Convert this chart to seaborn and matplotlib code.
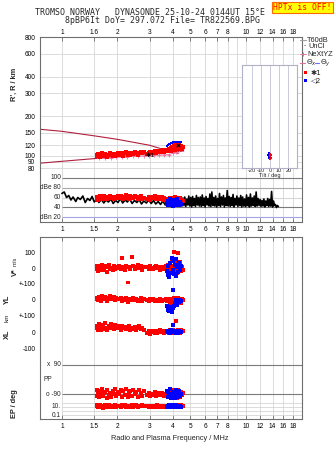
import matplotlib
matplotlib.use("Agg")
import matplotlib.pyplot as plt
from matplotlib.patches import Rectangle
from matplotlib.lines import Line2D
from matplotlib.ticker import NullLocator
import seaborn as sns

# ---------------- frequency axis ----------------
freq_min, freq_max = 0.7556, 20.15
grid_freqs = [1, 1.5, 2, 3, 4, 5, 6, 7, 8, 9, 10, 12, 14, 16, 18]
top_tick_freqs = [1, 1.5, 2, 3, 4, 5, 6, 7, 8, 10, 12, 14, 16, 18]
top_tick_labels = ["1", "1.6", "2", "3", "4", "5", "6", "7", "8", "10", "12", "14", "16", "18"]
mid_tick_freqs = [1, 1.5, 2, 3, 4, 5, 6, 7, 8, 9, 10, 12, 14, 16, 18]
mid_tick_labels = ["1", "1.5", "2", "3", "4", "5", "6", "7", "8", "9", "10", "12", "14", "16", "18"]
bottom_tick_freqs = [1, 1.5, 2, 3, 4, 5, 6, 7, 8, 10, 12, 14, 16, 18]
bottom_tick_labels = ["1", "1.5", "2", "3", "4", "5", "6", "7", "8", "10", "12", "14", "16", "18"]

# ---------------- height axis ----------------
height_ticks = [80, 90, 100, 120, 150, 200, 300, 400, 600, 800]
height_labels = ["80", "90", "100", "120", "150", "200", "300", "400", "600", "800"]

# model height curves (km)
upper_curve_f = [0.74, 1.0, 1.5, 2.0, 3.0, 3.7, 4.3]
upper_curve_h = [159.5, 153.3, 141.6, 133.2, 120.0, 109.8, 104.2]
lower_curve_f = [0.74, 1.0, 2.0, 3.0, 4.6]
lower_curve_h = [87.3, 90.5, 98.2, 103.0, 108.5]

# NeXtYZ true-height profile
nextyz_f = [1.60, 1.72, 1.85, 1.98, 2.12, 2.27, 2.43, 2.60, 2.78, 2.97, 3.17, 3.38, 3.60, 3.82, 4.02, 4.20, 4.36, 4.50]
nextyz_h = [95.5, 96, 96.5, 97, 97.5, 98, 98.5, 99, 99.5, 100, 100.5, 101, 101.5, 102, 104, 107, 110, 112]

# ---------------- echo mode 1 (x1) ----------------
x1_freq = [1.55, 1.56, 1.58, 1.60, 1.61, 1.63, 1.65, 1.67, 1.70, 1.72,
           1.75, 1.77, 1.80, 1.83, 1.86, 1.89, 1.92, 1.95, 1.98, 2.02,
           2.05, 2.09, 2.12, 2.16, 2.20, 2.24, 2.28, 2.32, 2.36, 2.41,
           2.45, 2.50, 2.54, 2.59, 2.64, 2.69, 2.74, 2.80,
           2.92, 2.97, 3.02, 3.08, 3.13, 3.19, 3.25, 3.31, 3.37, 3.43,
           3.49, 3.55, 3.61, 3.67, 3.72,
           3.77, 3.82, 3.86, 3.90, 3.94, 3.98, 4.02, 4.06, 4.10, 4.14,
           4.18, 4.22, 4.26, 4.30, 4.34, 4.38, 4.43, 4.48, 4.55]
x1_range = [101, 99, 103, 100, 98, 102, 104, 99, 101, 103, 100, 98, 102, 104, 101, 99, 103, 100, 102, 104,
            101, 105, 103, 100, 104, 106, 102, 104, 101, 105, 103, 106, 104, 102, 105, 107, 104, 106,
            103, 105, 107, 104, 106, 108, 105, 107, 109, 106, 108, 110, 107, 109, 111,
            108, 112, 110, 114, 109, 116, 112, 118, 111, 120, 114, 122, 113, 117, 124, 115, 119, 112, 116]
x1_amp = [58, 62, 56, 60, 63, 57, 61, 59, 64, 58, 62, 57, 60, 63, 59, 61, 57, 62, 60, 64,
          59, 63, 61, 57, 62, 65, 60, 58, 63, 61, 59, 64, 62, 58, 61, 63, 57, 60,
          58, 62, 56, 61, 59, 63, 57, 60, 62, 58, 61, 56, 60, 58, 55,
          57, 53, 59, 55, 60, 52, 58, 54, 61, 56, 50, 59, 53, 57, 55, 60, 52, 56, 54]
x1_vstar = [-5, 10, -20, 15, 5, -15, 20, 0, -10, 12, -25, 8, 18, -5, 3, -12, 15, -8, 6, -3,
            10, -6, 65, 4, -10, 12, -95, 8, -4, 70, 14, -8, 5, 20, -3, 10, -12, 6,
            4, -8, 12, 2, -5, 8, 15, -2, 6, -10, 3, 9, -6, 12, -4,
            20, -15, 35, 5, -25, 45, 10, 100, -10, 30, 60, -30, 15, 95, -5, 40, -20, 8, -12]
x1_yl = [8, 15, 2, 20, 10, -5, 25, 12, 6, 18, -8, 14, 9, 22, 4, 11, 16, 0, 13, 7,
         5, 12, -6, 9, 2, 15, -10, 4, 8, -3, 11, 0, 6, -8, 3, 10, -4, 7,
         2, -5, 6, -2, 4, -7, 3, 0, -4, 5, -6, 2, -3, 6, -8,
         -4, 8, -12, 3, -20, 5, -8, 12, -15, 0, -25, 6, -10, 15, -5, 4, -18, 8, 2]
x1_xl = [25, 40, 15, 50, 30, 10, 45, 35, 20, 55, 28, 12, 38, 25, 48, 30, 18, 42, 22, 35,
         28, 15, 40, 22, 32, 18, 25, 35, 12, 28, 20, 30, 15, 25, 38, 20, 28, 12,
         -5, 5, -10, 2, 8, -4, 6, -8, 0, 10, -3, 4, -6, 3, 8,
         2, -6, 10, 0, 5, -8, 12, 3, -4, 8, 70, -2, 6, 14, 0, -5, 10, 4, 8]
x1_pp = [-65, -100, -80, -110, -70, -95, -60, -105, -85, -75, -112, -68, -98, -82, -108, -72, -90, -62, -104, -78,
         -88, -66, -106, -74, -96, -60, -110, -84, -70, -100, -64, -92, -78, -108, -68, -86, -102, -74,
         -96, -82, -104, -88, -94, -80, -100, -90, -86, -98, -84, -92, -102, -88, -96,
         -78, -100, -70, -110, -86, -64, -104, -92, -74, -98, -82, -112, -68, -94, -88, -106, -76, -96, -84]
x1_ep = [12, 20, 8, 15, 25, 10, 18, 6, 14, 22, 9, 16, 30, 11, 19, 7, 13, 24, 10, 17,
         15, 9, 21, 12, 28, 8, 16, 11, 19, 26, 10, 14, 22, 9, 18, 12, 25, 13,
         14, 10, 18, 12, 8, 16, 11, 20, 9, 13, 17, 10, 15, 12, 19,
         11, 18, 8, 22, 13, 30, 9, 16, 12, 25, 7, 19, 14, 10, 21, 15, 26, 12, 17]

# ---------------- echo mode 2 (o2) ----------------
o2_freq = [3.72, 3.76, 3.80, 3.84, 3.88, 3.92, 3.96, 4.00, 4.04, 4.08, 4.12, 4.16, 4.20, 4.24, 4.28, 4.32, 4.38, 4.45]
o2_range = [119, 120, 121, 122, 123, 124, 125, 126, 126, 127, 127, 128, 127, 128, 127, 128, 126, 127]
o2_amp = [50, 44, 54, 47, 58, 45, 52, 42, 55, 48, 46, 53, 44, 57, 49, 45, 51, 47]
o2_vstar = [-20, -45, 10, -55, 30, -30, 65, -10, 45, -40, 20, -50, 55, 5, -25, 35, -15, 10]
o2_yl = [-40, -55, -60, -70, -45, -65, -72, -50, 60, -35, -20, -10, 0, -30, -5, -15, -2, -8]
o2_xl = [5, -3, 8, 2, -6, 10, 4, -2, 44, 6, 0, -8, 3, 9, -4, 5, 2, -1]
o2_pp = [-70, -110, -80, -100, -60, -115, -90, -75, -105, -85, -120, -65, -95, -80, -110, -70, -100, -88]
o2_ep = [10, 15, 8, 20, 12, 9, 25, 11, 14, 7, 18, 10, 22, 13, 9, 16, 12, 10]

# echo tilt (deg) vs range (km)
x1_tilt = [0.2, 0.6, 0.4, 0.8, 0.5]
x1_tilt_h = [94, 96, 98, 100, 102]
o2_tilt = [-1.5, -1.2, -1.8, -1.4, -1.6]
o2_tilt_h = [96, 98, 100, 102, 105]

# ---------------- background amplitude trace (dB) ----------------
noise_freq = [1.00, 1.03, 1.06, 1.09, 1.12, 1.15, 1.19, 1.22, 1.26, 1.30, 1.34, 1.38, 1.42, 1.46, 1.50,
              1.55, 1.59, 1.64, 1.69, 1.74, 1.79, 1.85, 1.90, 1.96, 2.02, 2.08, 2.14, 2.21, 2.27, 2.34,
              2.41, 2.48, 2.56, 2.63, 2.71, 2.79, 2.88, 2.97, 3.06, 3.15, 3.24, 3.34, 3.44, 3.54, 3.65,
              3.76, 3.87, 3.99, 4.11, 4.23, 4.36,
              4.50, 4.55, 4.61, 4.66, 4.72, 4.78, 4.84, 4.90, 4.96, 5.02,
              5.08, 5.14, 5.20, 5.26, 5.33, 5.39, 5.46, 5.52, 5.59, 5.66,
              5.73, 5.80, 5.87, 5.94, 6.01, 6.08, 6.16, 6.23, 6.31, 6.38,
              6.46, 6.54, 6.62, 6.70, 6.78, 6.86, 6.95, 7.03, 7.12, 7.20,
              7.29, 7.38, 7.47, 7.56, 7.65, 7.74, 7.84, 7.93, 8.03, 8.13,
              8.23, 8.33, 8.43, 8.53, 8.63, 8.74, 8.84, 8.95, 9.06, 9.17,
              9.28, 9.39, 9.51, 9.62, 9.74, 9.86, 9.98, 10.10, 10.22, 10.35,
              10.47, 10.60, 10.73, 10.86, 10.99, 11.12, 11.26, 11.39, 11.53, 11.67,
              11.81, 11.96, 12.10, 12.25, 12.40, 12.55, 12.70, 12.85, 13.01, 13.17,
              13.33, 13.49, 13.65, 13.82, 13.99, 14.16, 14.33, 14.50, 14.68, 14.86,
              15.04]
noise_db = [68, 71, 60, 64, 55, 61, 52, 60, 56, 63, 50, 58, 54, 62, 51,
            57, 50, 56, 49, 55, 51, 57, 48, 54, 50, 58, 49, 55, 51, 57,
            48, 54, 50, 56, 47, 53, 49, 55, 48, 54, 47, 52, 46, 53, 45,
            51, 44, 50, 43, 49, 44,
            43, 59, 44, 61, 42, 57, 45, 63, 43, 60,
            41, 62, 44, 58, 42, 64, 45, 60, 43, 61,
            42, 65, 44, 59, 41, 62, 45, 58, 43, 67,
            42, 71, 44, 60, 43, 63, 41, 58, 44, 68,
            42, 61, 45, 64, 41, 59, 44, 74, 43, 62,
            42, 60, 44, 66, 41, 58, 45, 63, 42, 59,
            44, 64, 41, 61, 43, 57, 42, 65, 44, 60,
            41, 67, 43, 59, 44, 63, 42, 71, 43, 58,
            44, 56, 42, 54, 43, 57, 41, 53, 44, 58,
            42, 56, 43, 72, 41, 53, 44, 46, 40, 44,
            42]

db_levels = [100, 80, 60, 40, 20]
db_labels = ["100", "dBe 80", "60", "40", "dBn 20"]
tilt_ticks = [-20, -10, 0, 10, 20]

# ---------------- styling ----------------
W, H = 335, 451
RED, BLUE = "#ff0000", "#0000ff"
MAROON, PINK = "#b0203c", "#ee6c9c"
GRID, FRAME, DARK = "#d6d6d6", "#6e6e6e", "#7a7a7a"
TICK_FS, LAB_FS = 4.7, 5.3
MS = 5

sns.set_theme(style="white")
plt.rcParams["font.family"] = ["Liberation Sans", "DejaVu Sans"]
plt.rcParams["axes.unicode_minus"] = False

fig = plt.figure(figsize=(W / 100, H / 100), dpi=100)
fig.patch.set_facecolor("white")


def px_axes(x0, y0, x1, y1):
    return fig.add_axes([x0 / W, 1 - y1 / H, (x1 - x0) / W, (y1 - y0) / H])


def ftext(x, y, s, **kw):
    return fig.text(x / W, 1 - y / H, s, **kw)


def fline(x0, x1, y, **kw):
    fig.add_artist(Line2D([x0 / W, x1 / W], [1 - y / H, 1 - y / H], transform=fig.transFigure, **kw))


def freq_axis(ax, hide=()):
    ax.set_xscale("log")
    ax.set_xlim(freq_min, freq_max)
    ax.xaxis.set_minor_locator(NullLocator())
    ax.set_xticks([])
    ax.set_facecolor("white")
    for f in grid_freqs:
        ax.axvline(f, color=GRID, lw=0.6, zorder=0)
    for name, sp in ax.spines.items():
        sp.set_color(FRAME)
        sp.set_linewidth(0.8)
        if name in hide:
            sp.set_visible(False)
    ax.tick_params(axis="both", colors=FRAME, labelcolor="black", labelsize=TICK_FS,
                   direction="in", length=2.5, width=0.6)
    ax.set_xlabel("")
    ax.set_ylabel("")


def scatter(ax, x, y, color, s=MS):
    sns.scatterplot(x=x, y=y, ax=ax, marker="s", s=s, color=color, linewidth=0, zorder=4)


FL, FR = 39.5, 301.7

# ---------------- panel 1: virtual height ----------------
ax_h = px_axes(FL, 37.3, FR, 172)
freq_axis(ax_h, hide=("bottom",))
ax_h.set_yscale("log")
ax_h.set_ylim(75.0, 800)
ax_h.yaxis.set_minor_locator(NullLocator())
ax_h.set_yticks(height_ticks, height_labels)
ax_h.tick_params(axis="y", pad=3)
ax_h.set_xticks(top_tick_freqs, top_tick_labels)
ax_h.tick_params(axis="x", top=True, bottom=False, labeltop=True, labelbottom=False, pad=1.2, length=3)
for h in height_ticks:
    ax_h.axhline(h, color=GRID, lw=0.6, zorder=0)

sns.lineplot(x=upper_curve_f, y=upper_curve_h, ax=ax_h, color=MAROON, lw=0.8, sort=False, estimator=None, zorder=2)
sns.lineplot(x=lower_curve_f, y=lower_curve_h, ax=ax_h, color=MAROON, lw=0.8, sort=False, estimator=None, zorder=2)
sns.lineplot(x=nextyz_f, y=nextyz_h, ax=ax_h, color=PINK, lw=0.6, marker="+", markersize=3,
             markeredgewidth=0.6, markeredgecolor=PINK, sort=False, estimator=None, zorder=3)
scatter(ax_h, x1_freq, x1_range, RED)
scatter(ax_h, o2_freq, o2_range, BLUE, s=4)
ax_h.text(2.84, 101, "\u27311", fontsize=4.6, color="black", va="center", ha="left", zorder=6,
          family=["DejaVu Sans"])
ax_h.scatter([4.27], [120], marker="x", s=6, color="black", linewidth=0.8, zorder=6)
ax_h.set_xlabel("")
ax_h.set_ylabel("")

# ---------------- panel 1: amplitude (dB) ----------------
ax_db = px_axes(FL, 172, FR, 222)
freq_axis(ax_db, hide=("top",))
ax_db.set_ylim(11, 111)
ax_db.set_yticks([])
ax_db.set_xticks(mid_tick_freqs, mid_tick_labels)
ax_db.tick_params(axis="x", bottom=True, labelbottom=True, pad=2.6, length=3)
db_line_colors = [DARK, "#a8a8a8", GRID, DARK, "#a4a4e4"]
for lev, lab, c in zip(db_levels, db_labels, db_line_colors):
    ax_db.hlines(lev, 1.0, freq_max, color=c, lw=0.8, zorder=1)
    ax_db.text(0.99, lev, lab, ha="right", va="center", fontsize=TICK_FS, zorder=5)
sns.lineplot(x=noise_freq, y=noise_db, ax=ax_db, color="black", lw=1.2, sort=False, estimator=None, zorder=3)
scatter(ax_db, x1_freq, x1_amp, RED)
scatter(ax_db, o2_freq, o2_amp, BLUE)
ax_db.set_xlabel("")
ax_db.set_ylabel("")

# ---------------- tilt inset ----------------
ax_t = px_axes(242, 65, 297, 168)
ax_t.set_facecolor("white")
ax_t.set_xlim(-30.4, 29.3)
ax_t.set_yscale("log")
ax_t.set_ylim(80, 492)
ax_t.yaxis.set_minor_locator(NullLocator())
ax_t.set_yticks([])
for t in tilt_ticks:
    ax_t.axvline(t, color="#c2c2d4", lw=0.6, zorder=0)
for sp in ax_t.spines.values():
    sp.set_color("#b0b0c8")
    sp.set_linewidth(0.8)
ax_t.set_xticks(tilt_ticks, [str(t) for t in tilt_ticks])
ax_t.tick_params(axis="x", length=0, pad=0.3, labelsize=4.1)
scatter(ax_t, o2_tilt, o2_tilt_h, BLUE, s=3)
scatter(ax_t, x1_tilt, x1_tilt_h, RED, s=3)
ax_t.set_ylabel("")
ax_t.set_xlabel("Tilt / deg", fontsize=4.1, labelpad=-0.5)

# ---------------- panel 2: V*, YL, XL, PP, EP ----------------
ax_v = px_axes(FL, 237, FR, 284)
ax_yl = px_axes(FL, 284, FR, 316)
ax_xl = px_axes(FL, 316, FR, 365)
ax_pp = px_axes(FL, 365, FR, 400)
ax_ep = px_axes(FL, 400, FR, 419)

freq_axis(ax_v, hide=("bottom",))
freq_axis(ax_yl, hide=("top", "bottom"))
freq_axis(ax_xl, hide=("top", "bottom"))
freq_axis(ax_pp, hide=("top", "bottom"))
freq_axis(ax_ep, hide=("top",))

ax_v.set_ylim(-101.9, 197.5)
ax_v.set_yticks([0, 100], ["0", "100"])
ax_v.set_xticks(bottom_tick_freqs)
ax_v.tick_params(axis="x", top=True, bottom=False, labeltop=False, labelbottom=False, length=3)
ax_yl.set_ylim(-100, 100)
ax_yl.set_yticks([-100, 0, 100], ["+-100", "0", "+-100"])
ax_xl.set_ylim(-206, 100)
ax_xl.set_yticks([-100, 0], ["-100", "0"])
for a in (ax_v, ax_yl, ax_xl):
    a.tick_params(axis="y", pad=3)

ax_pp.set_ylim(-127.2, 90)
ax_pp.set_yticks([])
for lev, lab in ((90, "x  90"), (-90, "o -90")):
    ax_pp.hlines(lev, 1.0, freq_max, color=DARK, lw=0.8, zorder=1, clip_on=False)
    ax_pp.text(0.99, lev, lab, ha="right", va="center", fontsize=TICK_FS, zorder=5)
ax_pp.text(0.79, 3, "PP", ha="left", va="center", fontsize=TICK_FS)

ax_ep.set_yscale("log")
ax_ep.set_ylim(0.0109, 411)
ax_ep.yaxis.set_minor_locator(NullLocator())
ax_ep.set_yticks([])
for lev in (100, 10, 1, 0.1):
    ax_ep.hlines(lev, 1.0, freq_max, color=GRID, lw=0.6, zorder=1)
ax_ep.text(0.985, 10, "10.", ha="right", va="center", fontsize=TICK_FS)
ax_ep.text(0.985, 0.1, "0.1", ha="right", va="center", fontsize=TICK_FS)
ax_ep.set_xticks(bottom_tick_freqs, bottom_tick_labels)
ax_ep.tick_params(axis="x", bottom=True, labelbottom=True, pad=2.6, length=3)

for a, y1, y2 in ((ax_v, x1_vstar, o2_vstar), (ax_yl, x1_yl, o2_yl), (ax_xl, x1_xl, o2_xl),
                  (ax_pp, x1_pp, o2_pp), (ax_ep, x1_ep, o2_ep)):
    scatter(a, x1_freq, y1, RED)
    scatter(a, o2_freq, y2, BLUE)
    a.set_xlabel("")
    a.set_ylabel("")

# ---------------- axis titles ----------------
ftext(14, 84, "R', R / km", rotation=90, ha="center", va="center", fontsize=LAB_FS, weight="bold")
ftext(15, 272, "V*", rotation=90, ha="center", va="center", fontsize=LAB_FS, weight="bold")
ftext(15.5, 261, "m/s", rotation=90, ha="center", va="center", fontsize=4.2)
ftext(7.5, 299, "YL", rotation=90, ha="center", va="center", fontsize=LAB_FS, weight="bold")
ftext(7.5, 318, "km", rotation=90, ha="center", va="center", fontsize=4.6)
ftext(7.5, 334, "XL", rotation=90, ha="center", va="center", fontsize=LAB_FS, weight="bold")
ftext(14, 404, "EP / deg", rotation=90, ha="center", va="center", fontsize=LAB_FS, weight="bold")
ftext(170, 439, "Radio and Plasma Frequency / MHz", ha="center", va="center", fontsize=LAB_FS)

# ---------------- header ----------------
mono = ["DejaVu Sans Mono"]
ftext(35, 12.3, "TROMSO NORWAY   DYNASONDE 25-10-24 0144UT 15\u00b0E", ha="left", va="center",
      fontsize=5.95, family=mono)
ftext(65, 20.7, "8pBP6It DoY= 297.072 File= TR822569.BPG", ha="left", va="center",
      fontsize=5.95, family=mono)
fig.add_artist(Rectangle((272 / W, 1 - 13 / H), 61 / W, 11 / H, transform=fig.transFigure,
                         facecolor="#ffff00", edgecolor="#ff6a00", lw=0.8))
ftext(302.5, 7.6, "HPTx is OFF!", ha="center", va="center", fontsize=5.75, family=mono, color="#ff0000")

# ---------------- legend ----------------
LEG_FS = 5.3
fline(300, 306, 40, color="#a0a0a0", lw=0.8)
ftext(307, 40, "T60dB", ha="left", va="center", fontsize=LEG_FS)
ftext(305, 46.5, "\u00b7", ha="center", va="center", fontsize=LEG_FS, weight="bold")
ftext(308, 46.5, "UnCl", ha="left", va="center", fontsize=LEG_FS)
fline(300, 306, 54, color=PINK, lw=0.6)
fig.add_artist(Line2D([303 / W], [1 - 54 / H], transform=fig.transFigure, marker="+", color=PINK,
                      markersize=3.5, markeredgewidth=0.7, linestyle="none"))
ftext(307, 54, "NeXtYZ", ha="left", va="center", fontsize=LEG_FS)
fline(300, 305, 63, color=PINK, lw=0.8)
ftext(305.5, 63, r"$\Theta_x$", ha="left", va="center", fontsize=LEG_FS)
fline(315, 319, 63, color="#6a6aff", lw=0.8)
ftext(319.5, 63, r"$\Theta_y$", ha="left", va="center", fontsize=LEG_FS)
fig.add_artist(Rectangle((303.5 / W, 1 - 74.2 / H), 3 / W, 3 / H, transform=fig.transFigure,
                         facecolor=RED, edgecolor="none"))
ftext(311, 72.7, "\u27311", ha="left", va="center", fontsize=LEG_FS, family=["DejaVu Sans"])
fig.add_artist(Rectangle((303.5 / W, 1 - 81.5 / H), 3 / W, 3 / H, transform=fig.transFigure,
                         facecolor=BLUE, edgecolor="none"))
ftext(311, 80, "\u25c12", ha="left", va="center", fontsize=LEG_FS, family=["DejaVu Sans"])

fig.savefig("out.png", dpi=100, facecolor="white")
